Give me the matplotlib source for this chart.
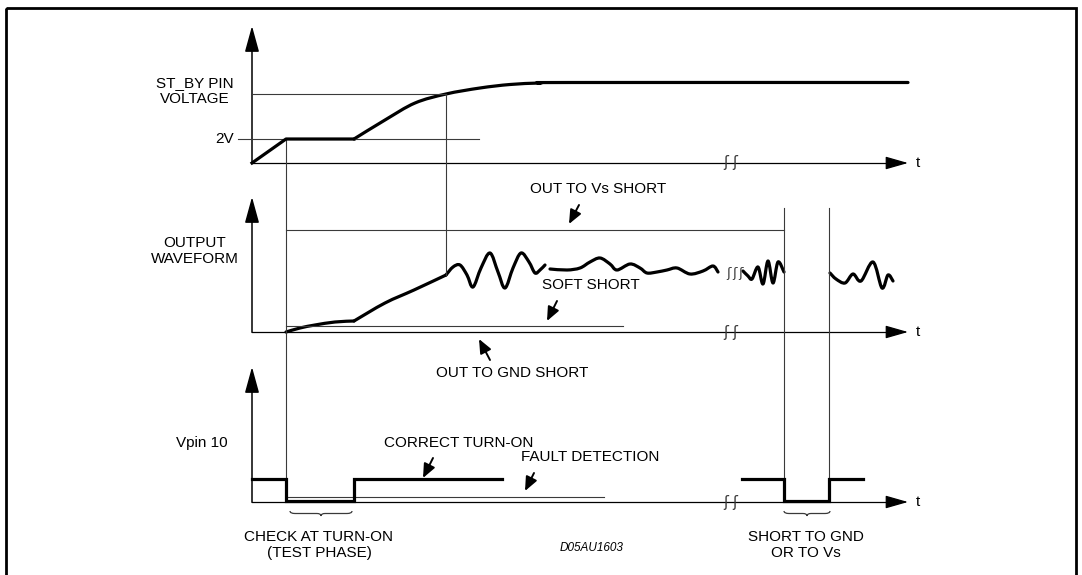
"""Test-phase timing diagram: ST_BY pin voltage, output waveform and Vpin 10."""

import matplotlib

matplotlib.use("Agg")
import matplotlib.pyplot as plt
import numpy as np
from matplotlib.patches import PathPatch, Rectangle
from matplotlib.path import Path

# ---- diagram data (units: reference pixels, y grows downward) ----
AXIS_X = 252
T_END = 908
BREAK_X = [726, 735]
T_ON = 286          # turn-on instant
T_TEST_END = 354    # end of test phase
T_SETTLE = 446      # st-by reaches upper threshold
T_SHORT = [784, 829]

# top panel: ST_BY pin voltage
stby_base = 163
stby_2v = 139
stby_upper = 94
stby_ramp_x = [AXIS_X, T_ON, T_TEST_END]
stby_ramp_y = [stby_base, stby_2v, stby_2v]
stby_rise_x = [354, 385, 415, 446, 480, 510, 540, 570]
stby_rise_y = [139, 120, 103, 94, 88, 84.5, 83, 82.5]
stby_plateau_x = [570, T_END]
stby_plateau_y = [82.5, 82.5]

# middle panel: output waveform
out_base = 332
out_vs_level = 230
out_soft_level = 326
out_soft_end = 623
out_start_x = [286, 300, 315, 335, 354]
out_start_y = [332, 328, 325, 322, 321]
out_rise_x = [354, 385, 414, 446]
out_rise_y = [321, 303, 290, 275]
wave1_x = [446, 453, 460, 467, 473, 481, 490, 498, 505, 513, 521, 529, 535, 540, 545]
wave1_y = [275, 267, 265, 275, 287, 268, 253, 272, 288, 268, 253, 262, 273, 270, 265]
wave2_x = [550, 567, 580, 590, 600, 610, 617, 630, 640, 647, 657, 667, 677, 690, 703, 713, 718]
wave2_y = [269, 270, 268, 262, 258, 264, 270, 264, 268, 273, 272, 270, 268, 274, 271, 266, 272]
wave3_x = [743, 748, 752, 758, 763, 768, 773, 778, 784]
wave3_y = [271, 276, 279, 267, 284, 261, 283, 262, 272]
wave4_x = [830, 836, 845, 853, 861, 873, 882, 888, 893]
wave4_y = [273, 279, 283, 274, 281, 262, 288, 275, 281]
wave_break_x = [728, 734, 740]
wave_break_y = 273

# bottom panel: Vpin 10
vpin_base = 502
vpin_high = 479
vpin_fault_level = 497
vpin_fault_end = 604
vpin1_x = [AXIS_X, T_ON, T_ON, T_TEST_END, T_TEST_END, 502]
vpin1_y = [vpin_high, vpin_high, 501, 501, vpin_high, vpin_high]
vpin2_x = [742, T_SHORT[0], T_SHORT[0], T_SHORT[1], T_SHORT[1], 863]
vpin2_y = [vpin_high, vpin_high, 501, 501, vpin_high, vpin_high]

panel_tops = [26, 197, 367]
panel_bases = [stby_base, out_base, vpin_base]

side_labels = [
    ("ST_BY PIN\nVOLTAGE", 195, 91),
    ("OUTPUT\nWAVEFORM", 195, 251),
    ("Vpin 10", 202, 443),
]
notes = [
    ("OUT TO Vs SHORT", 598, 189),
    ("SOFT SHORT", 591, 285),
    ("OUT TO GND SHORT", 512, 373),
    ("CORRECT TURN-ON", 459, 443),
    ("FAULT DETECTION", 590, 457),
    ("CHECK AT TURN-ON\n(TEST PHASE)", 319, 545),
    ("SHORT TO GND\nOR TO Vs", 806, 545),
]
# (tail, tip) of the small pointer arrows
pointers = [
    ((579, 205), (569, 224)),
    ((557, 301), (547, 321)),
    ((490, 360), (479, 339)),
    ((433, 458), (423, 478)),
    ((534, 473), (525, 491)),
]
braces = [(290, 352, 511), (784, 830, 511)]

FONT = ["Liberation Sans", "DejaVu Sans"]
THIN = "#3a3a3a"


def smooth_path(xs, ys):
    pts = np.column_stack([xs, ys]).astype(float)
    verts = [pts[0]]
    codes = [Path.MOVETO]
    n = len(pts)
    for i in range(n - 1):
        p0 = pts[max(i - 1, 0)]
        p1 = pts[i]
        p2 = pts[i + 1]
        p3 = pts[min(i + 2, n - 1)]
        verts += [p1 + (p2 - p0) / 6.0, p2 - (p3 - p1) / 6.0, p2]
        codes += [Path.CURVE4] * 3
    return Path(verts, codes)


def draw_curve(ax, xs, ys, lw=2.3):
    ax.add_patch(PathPatch(smooth_path(xs, ys), fill=False, lw=lw,
                           edgecolor="black", capstyle="round", joinstyle="round"))


def arrow(ax, tail, tip, scale, hl, hw, lw, color="black"):
    ax.annotate("", xy=tip, xytext=tail,
                arrowprops=dict(arrowstyle=f"-|>,head_length={hl},head_width={hw}",
                                mutation_scale=scale, lw=lw, color=color,
                                shrinkA=0, shrinkB=0))


def brace(ax, x0, x1, y):
    xm = (x0 + x1) / 2
    h = 2.5
    verts = [(x0, y), (x0, y + h), (x0 + 5, y + h),
             (xm - 4, y + h), (xm, y + h), (xm, y + 2 * h),
             (xm, y + h), (xm + 4, y + h),
             (x1 - 5, y + h), (x1, y + h), (x1, y)]
    codes = [Path.MOVETO, Path.CURVE3, Path.CURVE3,
             Path.LINETO, Path.CURVE3, Path.CURVE3,
             Path.CURVE3, Path.CURVE3,
             Path.LINETO, Path.CURVE3, Path.CURVE3]
    ax.add_patch(PathPatch(Path(verts, codes), fill=False, lw=0.9, edgecolor=THIN))


def break_mark(ax, x, y, size=10.5):
    ax.text(x, y, "ʃ", fontsize=size, family=["DejaVu Sans"], ha="center",
            va="center", color=THIN)


def main():
    fig = plt.figure(figsize=(10.82, 5.75), dpi=100)
    ax = fig.add_axes([0, 0, 1, 1])
    ax.set_xlim(0, 1082)
    ax.set_ylim(575, 0)
    ax.axis("off")

    # frame
    ax.add_patch(Rectangle((6, 8), 1070, 580, fill=False, lw=2.0, edgecolor="black"))

    # axes with arrows
    for top, base in zip(panel_tops, panel_bases):
        ax.plot([AXIS_X, AXIS_X], [base, top + 12], color="black", lw=1.1)
        arrow(ax, (AXIS_X, top + 14), (AXIS_X, top), 20, 0.8, 0.22, 1.1)
        ax.plot([AXIS_X, T_END - 12], [base, base], color="black", lw=0.9)
        arrow(ax, (T_END - 14, base), (T_END, base), 20, 0.7, 0.2, 0.9)
        ax.text(T_END + 8, base, "t", fontsize=11, family=FONT, ha="left", va="center")
        for bx in BREAK_X:
            break_mark(ax, bx, base)

    # thin reference lines
    ax.plot([238, 479], [stby_2v, stby_2v], color=THIN, lw=0.8)
    ax.plot([AXIS_X, T_SETTLE], [stby_upper, stby_upper], color=THIN, lw=0.8)
    ax.plot([T_ON, T_ON], [stby_2v, vpin_high], color=THIN, lw=0.8)
    ax.plot([T_SETTLE, T_SETTLE], [stby_upper, out_rise_y[-1]], color=THIN, lw=0.8)
    ax.plot([T_ON, T_SHORT[0]], [out_vs_level, out_vs_level], color=THIN, lw=0.8)
    for xs in T_SHORT:
        ax.plot([xs, xs], [208, vpin_high], color=THIN, lw=0.8)
    ax.plot([T_ON, out_soft_end], [out_soft_level, out_soft_level], color=THIN, lw=0.8)
    ax.plot([T_ON, vpin_fault_end], [vpin_fault_level, vpin_fault_level], color=THIN, lw=0.8)
    ax.text(234, stby_2v, "2V", fontsize=11, family=FONT, ha="right", va="center")

    # top waveform
    ax.plot(stby_ramp_x, stby_ramp_y, color="black", lw=2.3, solid_joinstyle="round")
    draw_curve(ax, stby_rise_x + stby_plateau_x[1:], stby_rise_y + stby_plateau_y[1:])

    # output waveform
    draw_curve(ax, out_start_x, out_start_y)
    draw_curve(ax, out_rise_x, out_rise_y)
    for wx, wy in [(wave1_x, wave1_y), (wave2_x, wave2_y), (wave3_x, wave3_y), (wave4_x, wave4_y)]:
        draw_curve(ax, wx, wy)
    for bx in wave_break_x:
        break_mark(ax, bx, wave_break_y, size=9.5)

    # Vpin 10
    ax.plot(vpin1_x, vpin1_y, color="black", lw=2.3, solid_joinstyle="miter")
    ax.plot(vpin2_x, vpin2_y, color="black", lw=2.3, solid_joinstyle="miter")

    for text, x, y in side_labels:
        ax.text(x, y, text, fontsize=11, family=FONT, ha="center", va="center",
                linespacing=1.25)
    for text, x, y in notes:
        ax.text(x, y, text, fontsize=11, family=FONT, ha="center", va="center",
                linespacing=1.25)
    for tail, tip in pointers:
        arrow(ax, tail, tip, 12, 0.7, 0.3, 1.4)
    for x0, x1, y in braces:
        brace(ax, x0, x1, y)

    ax.text(592, 548, "D05AU1603", fontsize=8.5, family=FONT, style="italic",
            ha="center", va="center")

    fig.savefig("out.png", dpi=100)


if __name__ == "__main__":
    main()
